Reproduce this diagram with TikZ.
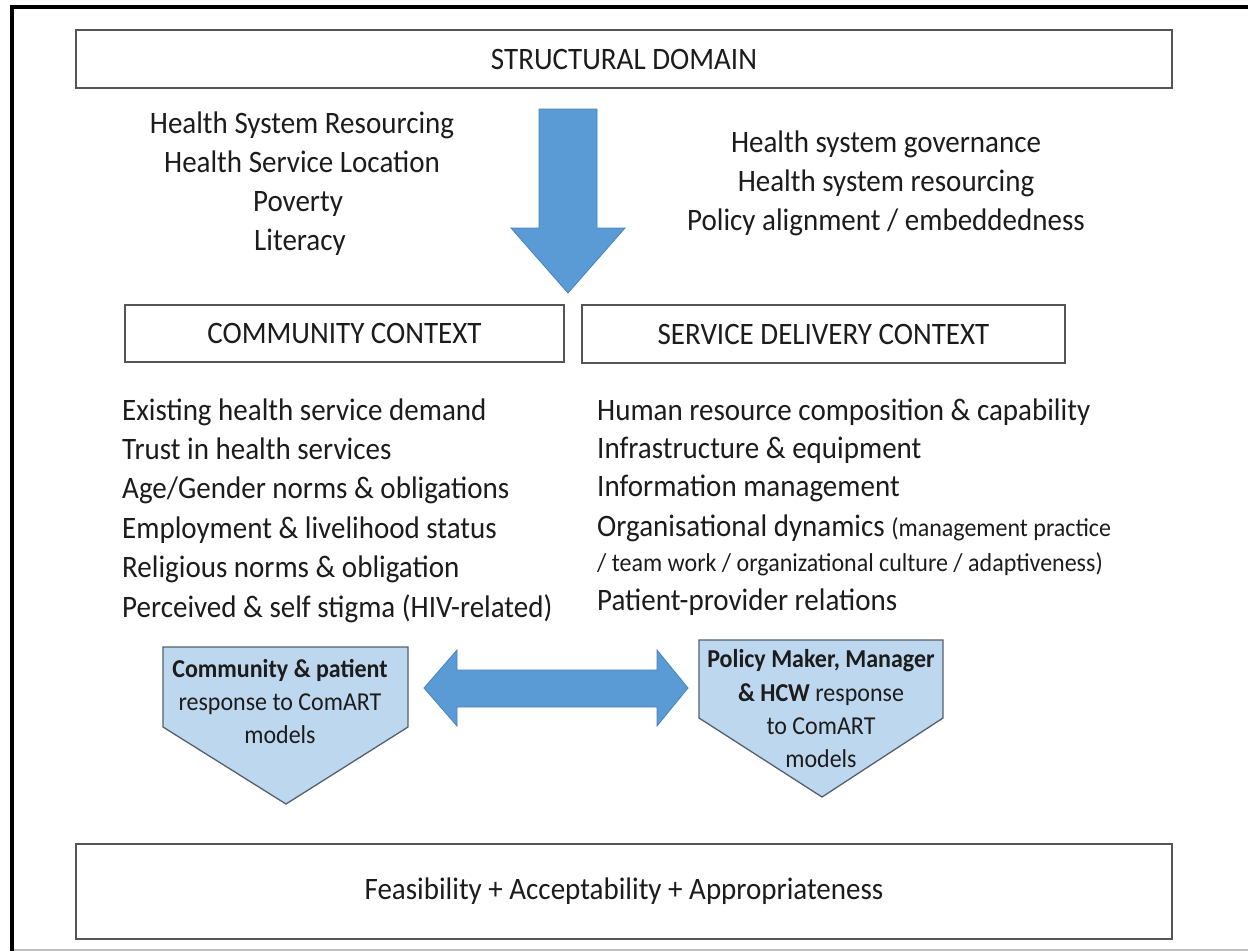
\documentclass[tikz,border=0pt]{standalone}
\usepackage{fontspec}
\setmainfont{Carlito}[FakeStretch=0.93]
\definecolor{ink}{RGB}{28,28,28}
\definecolor{boxline}{RGB}{85,85,85}
\definecolor{arrowblue}{RGB}{91,155,213}
\definecolor{arrowedge}{RGB}{72,130,190}
\definecolor{paleblue}{RGB}{189,215,238}
\definecolor{pentedge}{RGB}{85,95,110}
\begin{document}
\begin{tikzpicture}[x=1pt,y=-1pt,
  every node/.style={text=ink, inner sep=0pt},
  bigfont/.style={font=\fontsize{31.2}{37}\selectfont},
  notefont/.style={font=\fontsize{25.8}{30}\selectfont},
  smallfont/.style={font=\fontsize{25.8}{30}\selectfont},
  headbox/.style={draw=boxline, line width=2.4pt, fill=white, bigfont},
  listline/.style={bigfont, anchor=base west},
  centreline/.style={bigfont, anchor=base},
  pentline/.style={smallfont, anchor=base},
  blockarrow/.style={fill=arrowblue, draw=arrowedge, line width=0.8pt, line join=miter},
  pentagon/.style={fill=paleblue, draw=pentedge, line width=1.3pt, line join=miter}]
\useasboundingbox (0,0) rectangle (1248,951);

% page frame
\draw[line width=4pt, black] (12,951) -- (12,7) -- (1248,7);
\draw[line width=1.5pt, black!25] (14,950) -- (1248,950);

% heading boxes
\node[headbox, minimum width=1096pt, minimum height=58pt] (structural) at (624,59) {STRUCTURAL DOMAIN};
\node[headbox, minimum width=439pt, minimum height=57pt] (community) at (344.5,333.5) {COMMUNITY CONTEXT};
\node[headbox, minimum width=483pt, minimum height=58pt] (service) at (823.5,334) {SERVICE DELIVERY CONTEXT};
\node[headbox, minimum width=1096pt, minimum height=95pt] (outcome) at (624,891.5) {Feasibility + Acceptability + Appropriateness};

% structural factors
\node[centreline] (sl1) at (302,133) {Health System Resourcing};
\node[centreline] (sl2) at (302,172) {Health Service Location};
\node[centreline] (sl3) at (298,211) {Poverty};
\node[centreline] (sl4) at (300,250) {Literacy};

\node[centreline] (sr1) at (886,152) {Health system governance};
\node[centreline] (sr2) at (886,191) {Health system resourcing};
\node[centreline] (sr3) at (886,230) {Policy alignment / embeddedness};

% structural domain feeds down into the contexts
\fill[blockarrow] (539,109) -- (597,109) -- (597,228) -- (625,228) -- (568,293)
  -- (511,228) -- (539,228) -- cycle;

% community context factors
\node[listline] (cl1) at (122,420) {Existing health service demand};
\node[listline] (cl2) at (122,459.4) {Trust in health services};
\node[listline] (cl3) at (122,498.8) {Age/Gender norms \& obligations};
\node[listline] (cl4) at (122,538.2) {Employment \& livelihood status};
\node[listline] (cl5) at (122,577.6) {Religious norms \& obligation};
\node[listline] (cl6) at (122,617) {Perceived \& self stigma (HIV-related)};

% service delivery context factors
\node[listline] (dl1) at (597,420) {Human resource composition \& capability};
\node[listline] (dl2) at (597,458) {Infrastructure \& equipment};
\node[listline] (dl3) at (597,496) {Information management};
\node[listline] (dl4) at (597,536) {Organisational dynamics {\fontsize{25.8}{30}\selectfont(management practice}};
\node[listline, notefont] (dl5) at (597,571) {/ team work / organizational culture / adaptiveness)};
\node[listline] (dl6) at (597,610) {Patient-provider relations};

% response pentagons
\path[pentagon] (163,647) -- (408,647) -- (408,727) -- (286,804) -- (163,727) -- cycle;
\path[pentagon] (699,640) -- (943,640) -- (943,718) -- (822,797) -- (699,718) -- cycle;

\node[pentline, font=\fontsize{25.8}{30}\bfseries] (cp1) at (280,677) {Community \& patient};
\node[pentline] (cp2) at (280,710) {response to ComART};
\node[pentline] (cp3) at (280,743) {models};

\node[pentline, font=\fontsize{25.8}{30}\bfseries] (pm1) at (821,667) {Policy Maker, Manager};
\node[pentline] (pm2) at (821,701) {\textbf{\& HCW} response};
\node[pentline] (pm3) at (821,734) {to ComART};
\node[pentline] (pm4) at (821,767) {models};

% two-way exchange between the responses
\fill[blockarrow] (424,688) -- (457,650) -- (457,670) -- (657,670) -- (657,650)
  -- (688,688) -- (657,726) -- (657,707) -- (457,707) -- (457,726) -- cycle;
\end{tikzpicture}
\end{document}
